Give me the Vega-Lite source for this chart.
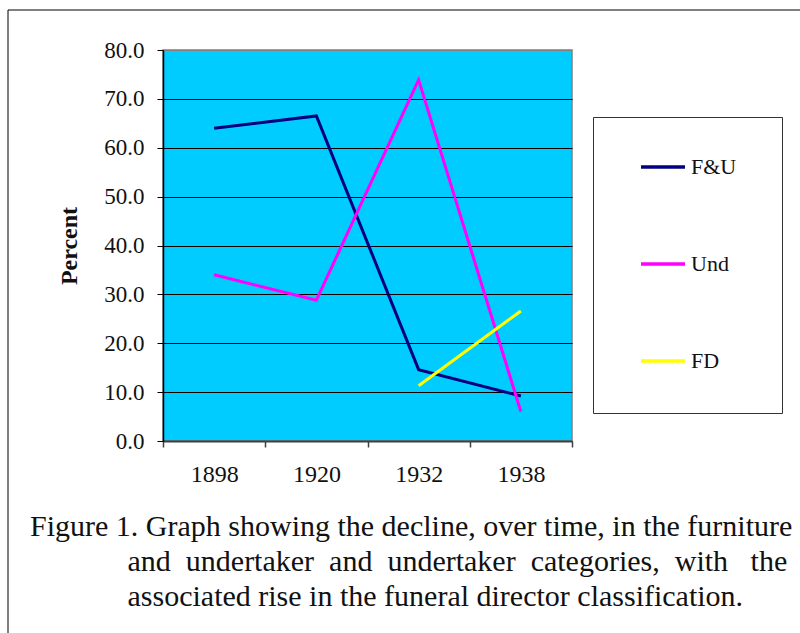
{
  "$schema": "https://vega.github.io/schema/vega-lite/v6.json",
  "autosize": "none",
  "padding": {"left": 163, "top": 50, "right": 228, "bottom": 192},
  "width": 409,
  "height": 391,
  "background": "white",
  "config": {
    "font": "Liberation Serif",
    "view": {"fill": "#00CCFF", "stroke": "#808080", "strokeWidth": 1.5}
  },
  "title": {
    "text": [
      "Figure 1. Graph showing the decline, over time, in the furniture",
      "\u200b\u00a0\u00a0\u00a0\u00a0\u00a0\u00a0\u00a0\u00a0\u00a0\u00a0\u00a0\u00a0\u00a0and \u00a0undertaker \u00a0and \u00a0undertaker \u00a0categories, \u00a0with \u00a0\u00a0the",
      "\u200b\u00a0\u00a0\u00a0\u00a0\u00a0\u00a0\u00a0\u00a0\u00a0\u00a0\u00a0\u00a0\u00a0associated rise in the funeral director classification."
    ],
    "orient": "bottom",
    "anchor": "start",
    "frame": "group",
    "dx": -133,
    "dy": -149,
    "offset": 25,
    "font": "Liberation Serif",
    "fontSize": 30,
    "fontWeight": "normal",
    "color": "#111",
    "lineHeight": 35,
    "baseline": "top"
  },
  "data": {
    "values": [
      {"year": "1898", "series": "F&U", "value": 64.0},
      {"year": "1920", "series": "F&U", "value": 66.5},
      {"year": "1932", "series": "F&U", "value": 14.6},
      {"year": "1938", "series": "F&U", "value": 9.2},
      {"year": "1898", "series": "Und", "value": 34.0},
      {"year": "1920", "series": "Und", "value": 28.8},
      {"year": "1932", "series": "Und", "value": 73.9},
      {"year": "1938", "series": "Und", "value": 6.0},
      {"year": "1932", "series": "FD", "value": 11.3},
      {"year": "1938", "series": "FD", "value": 26.6}
    ]
  },
  "mark": {"type": "line", "strokeWidth": 3, "clip": false},
  "encoding": {
    "x": {
      "field": "year",
      "type": "ordinal",
      "scale": {"paddingInner": 0, "paddingOuter": 0},
      "axis": {
        "title": null,
        "labelAngle": 0,
        "tickBand": "extent",
        "domainColor": "#404040",
        "domainWidth": 2,
        "tickColor": "#404040",
        "tickSize": 6,
        "tickWidth": 1.5,
        "labelFontSize": 24,
        "labelFont": "Liberation Serif",
        "labelColor": "#111",
        "labelPadding": 15,
        "grid": false
      }
    },
    "y": {
      "field": "value",
      "type": "quantitative",
      "scale": {"domain": [0, 80], "nice": false, "zero": true},
      "axis": {
        "title": "Percent",
        "titleFont": "Liberation Serif",
        "titleFontSize": 24,
        "titleFontWeight": "bold",
        "titleColor": "#111",
        "titlePadding": 22,
        "values": [0, 10, 20, 30, 40, 50, 60, 70, 80],
        "format": ".1f",
        "labelFontSize": 23,
        "labelFont": "Liberation Serif",
        "labelColor": "#111",
        "labelPadding": 13,
        "tickSize": 6,
        "tickColor": "black",
        "domainColor": "black",
        "domainWidth": 1.5,
        "grid": true,
        "gridColor": {"condition": {"test": "datum.value == 80", "value": "#808080"}, "value": "black"},
        "gridWidth": 1,
        "gridOpacity": 1
      }
    },
    "opacity": {
      "datum": "frame",
      "type": "nominal",
      "scale": {"range": [1, 1]},
      "legend": {
        "title": null,
        "orient": "none",
        "legendX": -155.5,
        "legendY": -40.5,
        "fillColor": "transparent",
        "strokeColor": "black",
        "padding": 0,
        "symbolType": "square",
        "symbolSize": 391876,
        "symbolOpacity": 0,
        "symbolStrokeWidth": 0,
        "labelExpr": "''",
        "labelOffset": 170
      }
    },
    "strokeOpacity": {
      "datum": "frame2",
      "type": "nominal",
      "scale": {"range": [1, 1]},
      "legend": {
        "title": null,
        "orient": "none",
        "legendX": -154.5,
        "legendY": -39.5,
        "fillColor": "transparent",
        "strokeColor": "black",
        "padding": 0,
        "symbolType": "square",
        "symbolSize": 391876,
        "symbolOpacity": 0,
        "symbolStrokeWidth": 0,
        "labelExpr": "''",
        "labelOffset": 170
      }
    },
    "color": {
      "field": "series",
      "type": "nominal",
      "scale": {"domain": ["F&U", "Und", "FD"], "range": ["#000080", "#FF00FF", "#FFFF00"]},
      "legend": {
        "title": "\u200b\u00a0\u00a0\u00a0\u00a0\u00a0\u00a0\u00a0\u00a0\u00a0\u00a0\u00a0\u00a0\u00a0\u00a0\u00a0\u00a0\u00a0\u00a0\u00a0\u00a0\u00a0\u00a0\u00a0\u00a0\u00a0\u00a0\u00a0\u00a0\u00a0\u00a0\u00a0\u00a0\u00a0\u00a0\u00a0\u00a0\u00a0\u00a0\u00a0\u200b",
        "titleOrient": "bottom",
        "titleFontSize": 14,
        "titlePadding": 1,
        "orient": "none",
        "legendX": 430,
        "legendY": 67,
        "direction": "vertical",
        "fillColor": "white",
        "strokeColor": "#333",
        "padding": 26,
        "symbolType": "stroke",
        "symbolSize": 1936,
        "symbolStrokeWidth": 3.5,
        "symbolOffset": 20,
        "labelOffset": 4,
        "labelFontSize": 22,
        "labelFont": "Liberation Serif",
        "labelColor": "#111",
        "rowPadding": 62
      }
    }
  }
}
